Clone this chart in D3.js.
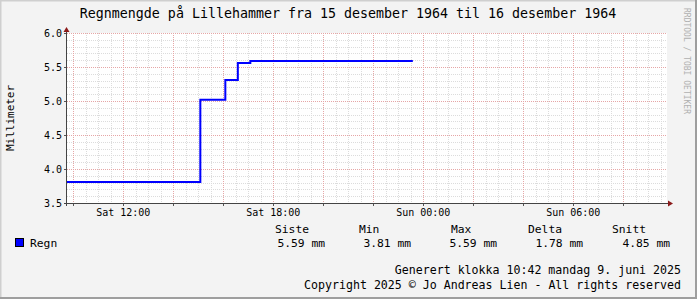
<!DOCTYPE html>
<html>
<head>
<meta charset="utf-8">
<script src="https://cdn.jsdelivr.net/npm/d3@7"></script>
<style>
  body { margin: 0; background: #f3f3f3; }
  text { font-family: "DejaVu Sans Mono", monospace; fill: #000; }
</style>
</head>
<body>
<div id="chart"></div>
<script>
// Data (times are the start of each level)
const stepTimes = ["1964-12-15T09:45", "1964-12-15T15:05", "1964-12-15T16:05", "1964-12-15T16:35", "1964-12-15T17:05"];
const stepValues = [3.81, 5.02, 5.31, 5.56, 5.59];
const lastTime = "1964-12-15T23:35";
const rangeStart = "1964-12-15T09:45";
const rangeEnd = "1964-12-16T09:45";
const xTickTimes = ["1964-12-15T12:00", "1964-12-15T18:00", "1964-12-16T00:00", "1964-12-16T06:00"];
const xTickLabels = ["Sat 12:00", "Sat 18:00", "Sun 00:00", "Sun 06:00"];
const yTicks = [3.5, 4.0, 4.5, 5.0, 5.5, 6.0];
const statLabels = ["Siste", "Min", "Max", "Delta", "Snitt"];
const statValues = ["5.59 mm", "3.81 mm", "5.59 mm", "1.78 mm", "4.85 mm"];

const W = 697, H = 299;
const margin = { top: 33, right: 30, bottom: 96, left: 67 };
const width = 600, height = 170;

const parse = d3.utcParse("%Y-%m-%dT%H:%M");
const data = stepTimes.map((t, i) => ({ t: parse(t), v: stepValues[i] }));
data.push({ t: parse(lastTime), v: stepValues[stepValues.length - 1] });

const svg = d3.select("#chart").append("svg")
  .attr("width", W).attr("height", H);

// Background and 3D-ish frame
svg.append("rect").attr("width", W).attr("height", H).attr("fill", "#f3f3f3");
svg.append("path").attr("d", `M0.5,${H} V0.5 H${W}`).attr("stroke", "#cfcfcf").attr("stroke-width", 2).attr("fill", "none");
svg.append("path").attr("d", `M0,${H - 1} H${W - 1} V0`).attr("stroke", "#9e9e9e").attr("stroke-width", 2).attr("fill", "none");

const g = svg.append("g").attr("transform", `translate(${margin.left},${margin.top})`);
g.append("rect").attr("width", width).attr("height", height).attr("fill", "#fff");

const x = d3.scaleUtc().domain([parse(rangeStart), parse(rangeEnd)]).range([0, width]);
const y = d3.scaleLinear().domain([3.5, 6.0]).range([height, 0]);

// Grid (minor lines skip the major positions)
const majorX = d3.utcHour.every(2).range(x.domain()[0], x.domain()[1]);
const minorX = d3.utcMinute.every(30).range(x.domain()[0], x.domain()[1])
  .filter((d) => d.getUTCMinutes() !== 0 || d.getUTCHours() % 2 !== 0);
const minorY = d3.range(35, 61).filter((d) => d % 5 !== 0).map((d) => d / 10);

g.append("g").selectAll("line").data(minorX).enter().append("line")
  .attr("x1", (d) => Math.round(x(d)) + 0.5).attr("x2", (d) => Math.round(x(d)) + 0.5)
  .attr("y1", 0).attr("y2", height)
  .attr("stroke", "#dcdcdc").attr("stroke-dasharray", "1,1");
g.append("g").selectAll("line").data(minorY).enter().append("line")
  .attr("x1", 0).attr("x2", width)
  .attr("y1", (d) => Math.round(y(d)) + 0.5).attr("y2", (d) => Math.round(y(d)) + 0.5)
  .attr("stroke", "#dcdcdc").attr("stroke-dasharray", "1,1");
g.append("g").selectAll("line").data(majorX).enter().append("line")
  .attr("x1", (d) => Math.round(x(d)) + 0.5).attr("x2", (d) => Math.round(x(d)) + 0.5)
  .attr("y1", 0).attr("y2", height)
  .attr("stroke", "#e6a6a6").attr("stroke-dasharray", "1,1");
g.append("g").selectAll("line").data(yTicks).enter().append("line")
  .attr("x1", 0).attr("x2", width)
  .attr("y1", (d) => Math.round(y(d)) + 0.5).attr("y2", (d) => Math.round(y(d)) + 0.5)
  .attr("stroke", "#e6a6a6").attr("stroke-dasharray", "1,1");

// Tick marks
g.append("g").selectAll("line").data(majorX).enter().append("line")
  .attr("x1", (d) => Math.round(x(d)) + 0.5).attr("x2", (d) => Math.round(x(d)) + 0.5)
  .attr("y1", height).attr("y2", height + 3).attr("stroke", "#555");
g.append("g").selectAll("line").data(yTicks).enter().append("line")
  .attr("x1", -3).attr("x2", 0)
  .attr("y1", (d) => Math.round(y(d)) + 0.5).attr("y2", (d) => Math.round(y(d)) + 0.5)
  .attr("stroke", "#555");

// Axis tick labels
g.append("g").selectAll("text").data(xTickTimes).enter().append("text")
  .attr("x", (d) => x(parse(d))).attr("y", height + 13)
  .attr("text-anchor", "middle").style("font-size", "10px")
  .text((d, i) => xTickLabels[i]);
g.append("g").selectAll("text").data(yTicks).enter().append("text")
  .attr("x", -5).attr("y", (d) => y(d) + 3.5)
  .attr("text-anchor", "end").style("font-size", "10px")
  .text((d) => d3.format(".1f")(d));

// Axis lines and arrows
g.append("line").attr("x1", -0.5).attr("x2", -0.5).attr("y1", height + 3).attr("y2", -4).attr("stroke", "#444");
g.append("line").attr("x1", -3).attr("x2", width + 2).attr("y1", height + 0.5).attr("y2", height + 0.5).attr("stroke", "#444");
g.append("path").attr("d", `M-3.5,-1 L-0.5,-6 L2.5,-1 Z`).attr("fill", "#8b1a1a");
g.append("path").attr("d", `M${width + 1},${height - 2.5} L${width + 6},${height + 0.5} L${width + 1},${height + 3.5} Z`).attr("fill", "#8b1a1a");

// Data line
const line = d3.line().curve(d3.curveStepAfter).x((d) => x(d.t)).y((d) => y(d.v));
g.append("path").datum(data).attr("d", line)
  .attr("fill", "none").attr("stroke", "#0000ff").attr("stroke-width", 2);

// Title
svg.append("text").attr("x", 348).attr("y", 18).attr("text-anchor", "middle")
  .style("font-size", "13.3px")
  .text("Regnmengde på Lillehammer fra 15 desember 1964 til 16 desember 1964");

// Y axis title
svg.append("text").attr("transform", "translate(14,118) rotate(-90)")
  .attr("text-anchor", "middle").style("font-size", "11px").text("Millimeter");

// Watermark
svg.append("text").attr("transform", "translate(684,8) rotate(90)")
  .style("font-size", "8px").style("fill", "#b0b0b0").text("RRDTOOL / TOBI OETIKER");

// Legend
svg.append("rect").attr("x", 15.5).attr("y", 238.5).attr("width", 8).attr("height", 8)
  .attr("fill", "#0000ff").attr("stroke", "#000");
svg.append("text").attr("x", 30).attr("y", 247).style("font-size", "11.3px").text("Regn");

const statLabelX = [275, 359, 451, 528, 612];
const statValueRight = [325, 411, 497, 583, 670];
svg.append("g").selectAll("text").data(statLabels).enter().append("text")
  .attr("x", (d, i) => statLabelX[i]).attr("y", 233)
  .style("font-size", "11.3px").text((d) => d);
svg.append("g").selectAll("text").data(statValues).enter().append("text")
  .attr("x", (d, i) => statValueRight[i]).attr("y", 247).attr("text-anchor", "end")
  .style("font-size", "11.3px").text((d) => d);

// Footer
svg.append("text").attr("x", 681).attr("y", 274).attr("text-anchor", "end")
  .style("font-size", "11.6px").text("Generert klokka 10:42 mandag 9. juni 2025");
svg.append("text").attr("x", 681).attr("y", 289).attr("text-anchor", "end")
  .style("font-size", "11.6px").text("Copyright 2025 © Jo Andreas Lien - All rights reserved");
</script>
</body>
</html>
